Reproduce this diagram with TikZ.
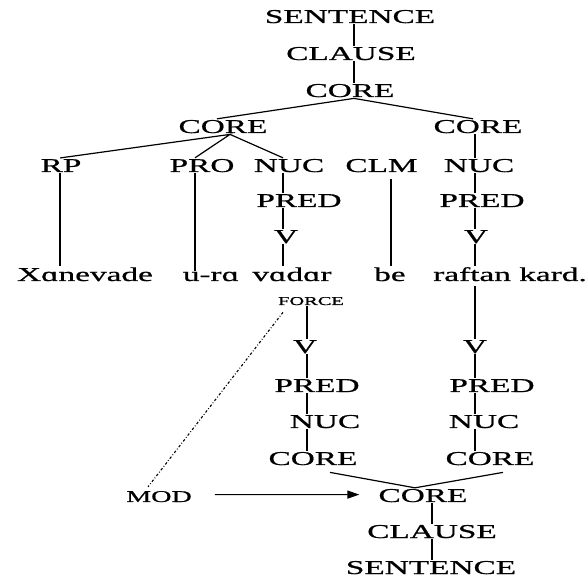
\documentclass[tikz,border=0pt]{standalone}
\usepackage{fontspec}
\setmainfont{Liberation Serif}[FakeStretch=1.7,FakeBold=0.8]
\usetikzlibrary{arrows.meta}
\begin{document}
\begin{tikzpicture}[x=1pt,y=-1pt,
  lbl/.style={anchor=base,inner sep=1pt,font=\fontsize{19.6}{20}\selectfont},
  tiny/.style={anchor=base,inner sep=1pt,font=\fontsize{12}{13}\selectfont},
  small/.style={anchor=base,inner sep=1pt,font=\fontsize{16.5}{17}\selectfont},
  edge/.style={line width=1.2pt},
  link/.style={line width=1.1pt,dash pattern=on 2.5pt off 2pt on 0.8pt off 2pt},
  every path/.style={line cap=butt}]
\useasboundingbox (0,0) rectangle (587,577);

% upper tree
\node[lbl] (s1) at (350,23) {SENTENCE};
\node[lbl] (c1) at (351,60) {CLAUSE};
\node[lbl] (k0) at (350,97) {CORE};
\node[lbl] (kL) at (223,133) {CORE};
\node[lbl] (kR) at (478,133) {CORE};
\node[lbl] (rp) at (61,172) {RP};
\node[lbl] (pro) at (202,172) {PRO};
\node[lbl] (nucA) at (289,172) {NUC};
\node[lbl] (clm) at (381.5,172) {CLM};
\node[lbl] (nucB) at (479,172) {NUC};
\node[lbl] (predA) at (299,207) {PRED};
\node[lbl] (predB) at (482,207) {PRED};
\node[lbl] (vA) at (286,243) {V};
\node[lbl] (vB) at (476,243) {V};

% words
\node[lbl] (w1) at (85,281) {Xɑnevade};
\node[lbl] (w2) at (211,281) {u-rɑ};
\node[lbl] (w3) at (292,281) {vɑdɑr};
\node[lbl] (w4) at (390,281) {be};
\node[lbl] (w5) at (510,281) {raftan kard.};

% operator projection
\node[tiny] (force) at (311,305) {FORCE};
\node[lbl] (vC) at (305,353) {V};
\node[lbl] (predC) at (317,392) {PRED};
\node[lbl] (nucC) at (325,428) {NUC};
\node[lbl] (kC) at (313,465) {CORE};
\node[lbl] (vD) at (475,353) {V};
\node[lbl] (predD) at (492,392) {PRED};
\node[lbl] (nucD) at (484,428) {NUC};
\node[lbl] (kD) at (490,465) {CORE};
\node[small] (mod) at (159,502) {MOD};
\node[lbl] (kE) at (423,502) {CORE};
\node[lbl] (c2) at (432,538) {CLAUSE};
\node[lbl] (s2) at (431,574) {SENTENCE};

% constituent projection
\draw[edge] ([xshift=4pt]s1.south) -- ([xshift=3pt]c1.north);
\draw[edge] ([xshift=3pt]c1.south) -- ([xshift=4pt]k0.north);
\draw[edge] ([xshift=-6pt]kL.north) -- ([xshift=4pt]k0.south) -- ([xshift=-5pt]kR.north);
\draw[edge] ([xshift=-1pt]rp.north) -- ([xshift=7pt]kL.south) -- ([xshift=-7pt]pro.north);
\draw[edge] ([xshift=7pt]kL.south) -- ([xshift=-6pt]nucA.north);
\draw[edge] ([xshift=-3pt]kR.south) -- ([xshift=-4pt]nucB.north);
\draw[edge] ([xshift=-6pt]nucA.south) -- ([xshift=-16pt]predA.north);
\draw[edge] ([xshift=-16pt]predA.south) -- ([xshift=-3pt]vA.north);
\draw[edge] ([xshift=-3pt]vA.south) -- ([xshift=-9pt]w3.north);
\draw[edge] ([xshift=-4pt]nucB.south) -- ([xshift=-7pt]predB.north);
\draw[edge] ([xshift=-7pt]predB.south) -- ([xshift=-1pt]vB.north);
\draw[edge] ([xshift=-1pt]vB.south) -- ([xshift=-35pt]w5.north);
\draw[edge] ([xshift=-1pt]rp.south) -- ([xshift=-25pt]w1.north);
\draw[edge] ([xshift=-7pt]pro.south) -- ([xshift=-16pt]w2.north);
\draw[edge] ([xshift=9.5pt,yshift=-6pt]clm.south) -- ([xshift=1pt]w4.north);

% operator projection edges
\draw[edge] ([xshift=-35pt,yshift=-4pt]w5.south) -- (vD.north);
\draw[edge] ([xshift=-4pt]force.south) -- ([xshift=2pt]vC.north);
\draw[edge] ([xshift=2pt]vC.south) -- ([xshift=-10pt]predC.north);
\draw[edge] ([xshift=-10pt]predC.south) -- ([xshift=-18pt]nucC.north);
\draw[edge] ([xshift=-18pt]nucC.south) -- ([xshift=-6pt]kC.north);
\draw[edge] (vD.south) -- ([xshift=-17pt]predD.north);
\draw[edge] ([xshift=-17pt]predD.south) -- ([xshift=-9pt]nucD.north);
\draw[edge] ([xshift=-9pt]nucD.south) -- ([xshift=-15pt]kD.north);
\draw[edge] ([xshift=17pt,yshift=-6pt]kC.south) -- ([xshift=-8pt]kE.north) -- ([xshift=13pt,yshift=-6pt]kD.south);
\draw[edge] ([xshift=9pt]kE.south) -- (c2.north);
\draw[edge] (c2.south) -- ([xshift=1pt]s2.north);

% modifier
\draw[link] ([xshift=-28pt,yshift=-6pt]force.south) -- ([xshift=-11pt,yshift=3pt]mod.north);
\draw[edge,-{Triangle[length=12pt,width=8pt]}] ([xshift=22pt,yshift=2pt]mod.east) -- ([xshift=-18pt,yshift=1pt]kE.west);
\end{tikzpicture}
\end{document}
